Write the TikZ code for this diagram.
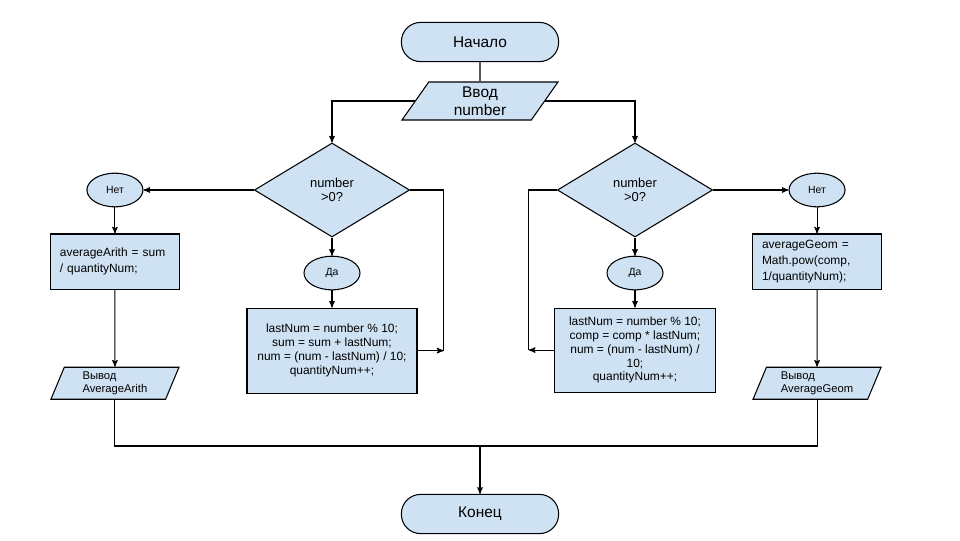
\documentclass[tikz,border=0pt]{standalone}
\usepackage{fontspec}
\setmainfont{Liberation Sans}
\usetikzlibrary{arrows,shapes.geometric}

\definecolor{boxblue}{HTML}{CFE2F3}

\begin{document}
\begin{tikzpicture}[x=0.025cm,y=-0.025cm,->,>=stealth',line width=0.75pt,
    base/.style={draw,fill=boxblue,line width=0.75pt,inner sep=1pt},
    term/.style={base,rectangle,rounded corners=0.48cm,minimum width=3.93cm,minimum height=0.98cm,font=\fontsize{11}{13}\selectfont},
    io/.style={base,trapezium,trapezium left angle=50,trapezium right angle=130,trapezium stretches body,minimum width=3.9cm,minimum height=0.95cm,align=center,font=\fontsize{11}{13}\selectfont},
    outbox/.style={base,trapezium,trapezium left angle=63,trapezium right angle=117,trapezium stretches body,minimum width=3.2cm,minimum height=0.8cm,align=left,font=\fontsize{8}{9.5}\selectfont},
    decision/.style={base,diamond,minimum width=3.88cm,minimum height=2.35cm,inner sep=0pt,align=center,font=\fontsize{9.2}{10}\selectfont},
    answer/.style={base,ellipse,minimum width=1.4cm,minimum height=0.84cm,inner sep=0pt,font=\fontsize{7.4}{9}\selectfont},
    proc/.style={base,rectangle,align=center,font=\fontsize{8.5}{9.9}\selectfont},
    calc/.style={base,rectangle,text width=2.75cm,inner xsep=0.24cm,minimum height=1.38cm,align=left,font=\fontsize{8.5}{11.4}\selectfont}]

  \useasboundingbox (0,0) rectangle (960,540);

  \node[term]                                         (start) at (480,42)  {Начало};
  \node[io, below of=start, node distance=1.475cm]    (input)              {Ввод\\number};

  % left branch
  \node[decision]                                     (decL)  at (332,190) {number\\>0?};
  \node[answer, below of=decL, node distance=2.075cm] (yesL)               {Да};
  \node[proc, below of=yesL, node distance=1.94cm, minimum width=4.25cm, minimum height=2.13cm] (bodyL)
       {lastNum = number \% 10;\\sum = sum + lastNum;\\num = (num - lastNum) / 10;\\quantityNum++;};
  \node[answer, left of=decL, node distance=5.425cm]  (noL)                {Нет};
  \node[calc, below of=noL, node distance=1.79cm]     (avgA)               {averageArith = sum\\/ quantityNum;};
  \node[outbox, below of=avgA, node distance=3.04cm]  (outA)               {Вывод\\AverageArith};

  % right branch
  \node[decision]                                     (decR)  at (635,190) {number\\>0?};
  \node[answer, below of=decR, node distance=2.075cm] (yesR)               {Да};
  \node[proc, below of=yesR, node distance=1.925cm, minimum width=4.03cm, minimum height=2.1cm] (bodyR)
       {lastNum = number \% 10;\\comp = comp * lastNum;\\num = (num - lastNum) /\\10;\\quantityNum++;};
  \node[answer, right of=decR, node distance=4.55cm]  (noR)                {Нет};
  \node[calc, below of=noR, node distance=1.79cm]     (avgG)               {averageGeom =\\Math.pow(comp,\\1/quantityNum);};
  \node[outbox, below of=avgG, node distance=3.04cm]  (outG)               {Вывод\\AverageGeom};

  \node[term]                                         (stop)  at (480,514) {Конец};

  \coordinate (backL) at ([xshift=0.65cm]bodyL.east);
  \coordinate (backR) at ([xshift=-0.625cm]bodyR.west);
  \coordinate (join)  at (480,446);

  \draw[-] (start) -- (input);
  \draw (input.west) -| (decL.north);
  \draw (input.east) -| (decR.north);

  \draw (decL.west) -- (noL);
  \draw (noL) -- (avgA);
  \draw (avgA) -- (outA);
  \draw (decL.south) -- (yesL);
  \draw (yesL) -- (bodyL);
  \draw[-] (decL.east) -| (backL);
  \draw (bodyL.east) -- (backL);

  \draw (decR.east) -- (noR);
  \draw (noR) -- (avgG);
  \draw (avgG) -- (outG);
  \draw (decR.south) -- (yesR);
  \draw (yesR) -- (bodyR);
  \draw[-] (decR.west) -| (backR);
  \draw (bodyR.west) -- (backR);

  \draw[-] (outA.south) |- (join) -| (outG.south);
  \draw (join) -- (stop);

\end{tikzpicture}
\end{document}
